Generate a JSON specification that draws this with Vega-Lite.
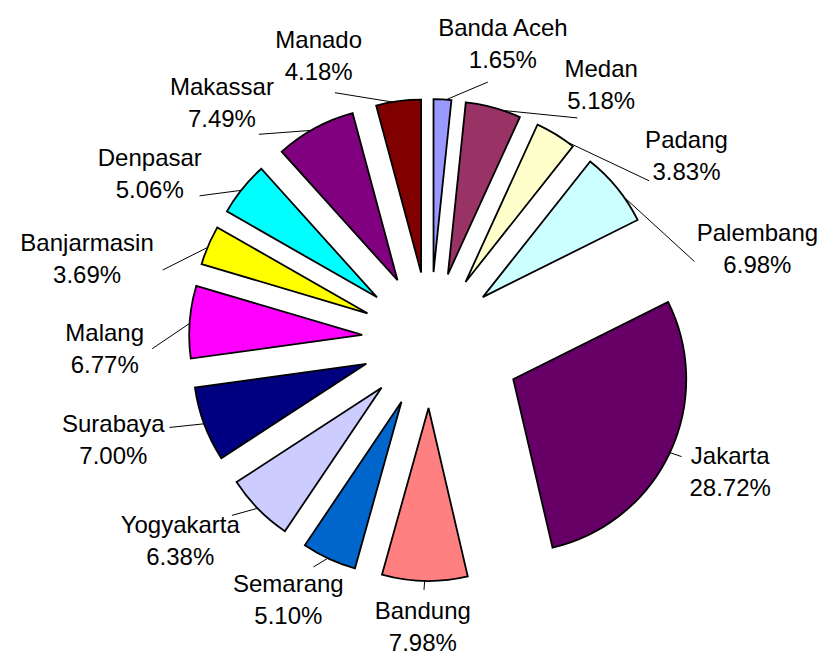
{
  "$schema": "https://vega.github.io/schema/vega-lite/v6.json",
  "width": 830,
  "height": 655,
  "padding": 0,
  "autosize": {"type": "none"},
  "background": "white",
  "config": {"view": {"stroke": null}},
  "data": {
    "values": [
      {"city": "Banda Aceh", "pct": 1.65},
      {"city": "Medan", "pct": 5.18},
      {"city": "Padang", "pct": 3.83},
      {"city": "Palembang", "pct": 6.98},
      {"city": "Jakarta", "pct": 28.72},
      {"city": "Bandung", "pct": 7.98},
      {"city": "Semarang", "pct": 5.10},
      {"city": "Yogyakarta", "pct": 6.38},
      {"city": "Surabaya", "pct": 7.00},
      {"city": "Malang", "pct": 6.77},
      {"city": "Banjarmasin", "pct": 3.69},
      {"city": "Denpasar", "pct": 5.06},
      {"city": "Makassar", "pct": 7.49},
      {"city": "Manado", "pct": 4.18}
    ]
  },
  "transform": [
    {"joinaggregate": [{"op": "sum", "field": "pct", "as": "total"}]},
    {"window": [{"op": "sum", "field": "pct", "as": "cum"}], "frame": [null, 0]},
    {"calculate": "(datum.cum - datum.pct) / datum.total", "as": "s0"},
    {"calculate": "datum.cum / datum.total", "as": "s1"},
    {"calculate": "(datum.s0 + datum.s1) * 180", "as": "midDeg"},
    {"calculate": "datum.city === 'Jakarta' ? 92 : 68", "as": "explode"},
    {"calculate": "datum.midDeg * PI / 180", "as": "theta"},
    {"calculate": "datum.explode * sin(datum.theta)", "as": "cx"},
    {"calculate": "datum.explode * cos(datum.theta)", "as": "cy"},
    {"calculate": "datum.midDeg < 180 ? 'R' : 'L'", "as": "side"},
    {"calculate": "datum.side === 'R' ? 20 : 18", "as": "gap"},
    {"calculate": "datum.side === 'R' ? 12 : 20", "as": "start"},
    {"calculate": "datum.side === 'R' ? datum.midDeg : 360 - datum.midDeg", "as": "k"},
    {"window": [{"op": "row_number", "as": "rn"}], "groupby": ["side"], "sort": [{"field": "k"}]},
    {"calculate": "datum.k - (datum.rn - 1) * datum.gap", "as": "u"},
    {"window": [{"op": "max", "field": "u", "as": "cm"}], "groupby": ["side"], "sort": [{"field": "k"}], "frame": [null, 0]},
    {"calculate": "(datum.rn - 1) * datum.gap + max(datum.start, datum.cm)", "as": "kk"},
    {"calculate": "(datum.side === 'R' ? datum.kk : 360 - datum.kk) * PI / 180", "as": "phi"},
    {"calculate": "max(length(datum.city) * 12.5, 70)", "as": "w"},
    {"calculate": "278 * sin(datum.phi)", "as": "ax"},
    {"calculate": "(datum.explode + 182 + max(cos(datum.phi), 0) * 14) * cos(datum.phi)", "as": "ay"},
    {"calculate": "datum.ax + sin(datum.phi) * (datum.w / 2 + 10)", "as": "lx"},
    {"calculate": "datum.ay + cos(datum.phi) * 38 + 16", "as": "ly"},
    {"calculate": "(datum.explode + 171) * sin(datum.theta)", "as": "bx"},
    {"calculate": "(datum.explode + 171) * cos(datum.theta)", "as": "by"},
    {"calculate": "datum.city + '\\n' + format(datum.pct, '.2f') + '%'", "as": "label"}
  ],
  "layer": [
    {
      "mark": {"type": "rule", "color": "#000000", "strokeWidth": 1},
      "encoding": {
        "x": {"field": "bx", "type": "quantitative", "scale": {"domain": [-430, 400], "nice": false, "zero": false}, "axis": null},
        "y": {"field": "by", "type": "quantitative", "scale": {"domain": [-315, 340], "nice": false, "zero": false}, "axis": null},
        "x2": {"field": "ax"},
        "y2": {"field": "ay"}
      }
    },
    {
      "mark": {"type": "arc", "outerRadius": 173, "stroke": "#000000", "strokeWidth": 1.8},
      "encoding": {
        "x": {"field": "cx", "type": "quantitative", "scale": {"domain": [-430, 400], "nice": false, "zero": false}, "axis": null},
        "y": {"field": "cy", "type": "quantitative", "scale": {"domain": [-315, 340], "nice": false, "zero": false}, "axis": null},
        "theta": {"field": "s0", "type": "quantitative", "stack": null, "scale": {"domain": [0, 1]}},
        "theta2": {"field": "s1"},
        "color": {
          "field": "city",
          "type": "nominal",
          "legend": null,
          "scale": {
            "domain": ["Banda Aceh", "Medan", "Padang", "Palembang", "Jakarta", "Bandung", "Semarang", "Yogyakarta", "Surabaya", "Malang", "Banjarmasin", "Denpasar", "Makassar", "Manado"],
            "range": ["#9999FF", "#993366", "#FFFFCC", "#CCFFFF", "#660066", "#FF8080", "#0066CC", "#CCCCFF", "#000080", "#FF00FF", "#FFFF00", "#00FFFF", "#800080", "#800000"]
          }
        }
      }
    },
    {
      "mark": {"type": "text", "font": "Liberation Sans", "fontSize": 24, "lineBreak": "\n", "lineHeight": 32, "align": "center", "baseline": "middle", "color": "#000000"},
      "encoding": {
        "x": {"field": "lx", "type": "quantitative", "scale": {"domain": [-430, 400], "nice": false, "zero": false}, "axis": null},
        "y": {"field": "ly", "type": "quantitative", "scale": {"domain": [-315, 340], "nice": false, "zero": false}, "axis": null},
        "text": {"field": "label", "type": "nominal"}
      }
    }
  ]
}
